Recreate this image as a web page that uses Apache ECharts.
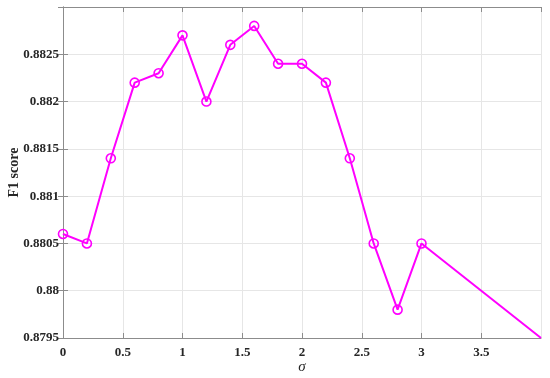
<!DOCTYPE html>
<html><head><meta charset="utf-8">
<script src="https://cdn.jsdelivr.net/npm/echarts@6/dist/echarts.min.js"></script>
<style>html,body{margin:0;padding:0;background:#fff}#c{width:550px;height:378px}</style>
</head><body><div id="c"></div>
<script>
const sigma = [0, 0.2, 0.4, 0.6, 0.8, 1.0, 1.2, 1.4, 1.6, 1.8, 2.0, 2.2, 2.4, 2.6, 2.8, 3.0];
const f1 = [0.8806, 0.8805, 0.8814, 0.8822, 0.8823, 0.8827, 0.8820, 0.8826, 0.8828, 0.8824, 0.8824, 0.8822, 0.8814, 0.8805, 0.8798, 0.8805];
const tailSigma = [4.0];
const tailF1 = [0.8795];
const xLabel = 'σ';
const yLabel = 'F1 score';

const data = sigma.map((s, i) => [s, f1[i]]);
tailSigma.forEach((s, i) => data.push({ value: [s, tailF1[i]], symbol: 'none' }));

const font = 'Liberation Serif, Times New Roman, serif';
const axisCol = '#8c8c8c';
const labelStyle = { color: '#262626', fontFamily: font, fontWeight: 'bold', fontSize: 13 };

const chart = echarts.init(document.getElementById('c'));
chart.setOption({
  animation: false,
  grid: { left: 63, right: 9, top: 7, bottom: 40, containLabel: false, outerBoundsMode: 'none' },
  xAxis: [{
    type: 'value', min: 0, max: 4, interval: 0.5,
    name: xLabel, nameLocation: 'middle', nameGap: 22, nameMoveOverlap: false,
    nameTextStyle: { color: '#262626', fontFamily: font, fontStyle: 'italic', fontSize: 15 },
    axisLine: { show: true, lineStyle: { color: axisCol } },
    axisTick: { show: true, inside: true, length: 5, lineStyle: { color: axisCol } },
    axisLabel: Object.assign({ margin: 8, showMaxLabel: false }, labelStyle),
    splitLine: { show: true, lineStyle: { color: '#e6e6e6' } }
  }, {
    type: 'value', position: 'top', min: 0, max: 4, interval: 0.5,
    axisLine: { show: true, lineStyle: { color: axisCol } },
    axisTick: { show: true, inside: true, length: 5, lineStyle: { color: axisCol } },
    axisLabel: { show: false }, splitLine: { show: false }
  }],
  yAxis: [{
    type: 'value', min: 0.8795, max: 0.883, interval: 0.0005,
    name: yLabel, nameLocation: 'middle', nameGap: 42, nameMoveOverlap: false,
    nameTextStyle: { color: '#262626', fontFamily: font, fontWeight: 'bold', fontSize: 14 },
    axisLine: { show: true, lineStyle: { color: axisCol } },
    axisTick: { show: true, inside: true, length: 5, lineStyle: { color: axisCol } },
    axisLabel: Object.assign({ margin: 4, showMaxLabel: false }, labelStyle),
    splitLine: { show: true, lineStyle: { color: '#e6e6e6' } }
  }, {
    type: 'value', position: 'right', min: 0.8795, max: 0.883, interval: 0.0005,
    axisLine: { show: true, lineStyle: { color: axisCol } },
    axisTick: { show: true, inside: true, length: 5, lineStyle: { color: axisCol } },
    axisLabel: { show: false }, splitLine: { show: false }
  }],
  series: [{
    type: 'line', xAxisIndex: 0, yAxisIndex: 0,
    data: data,
    symbol: 'circle', symbolSize: 9,
    lineStyle: { color: '#ff00ff', width: 2 },
    itemStyle: { color: 'rgba(255,255,255,0)', borderColor: '#ff00ff', borderWidth: 1.6 },
    clip: true
  }]
});
</script></body></html>
